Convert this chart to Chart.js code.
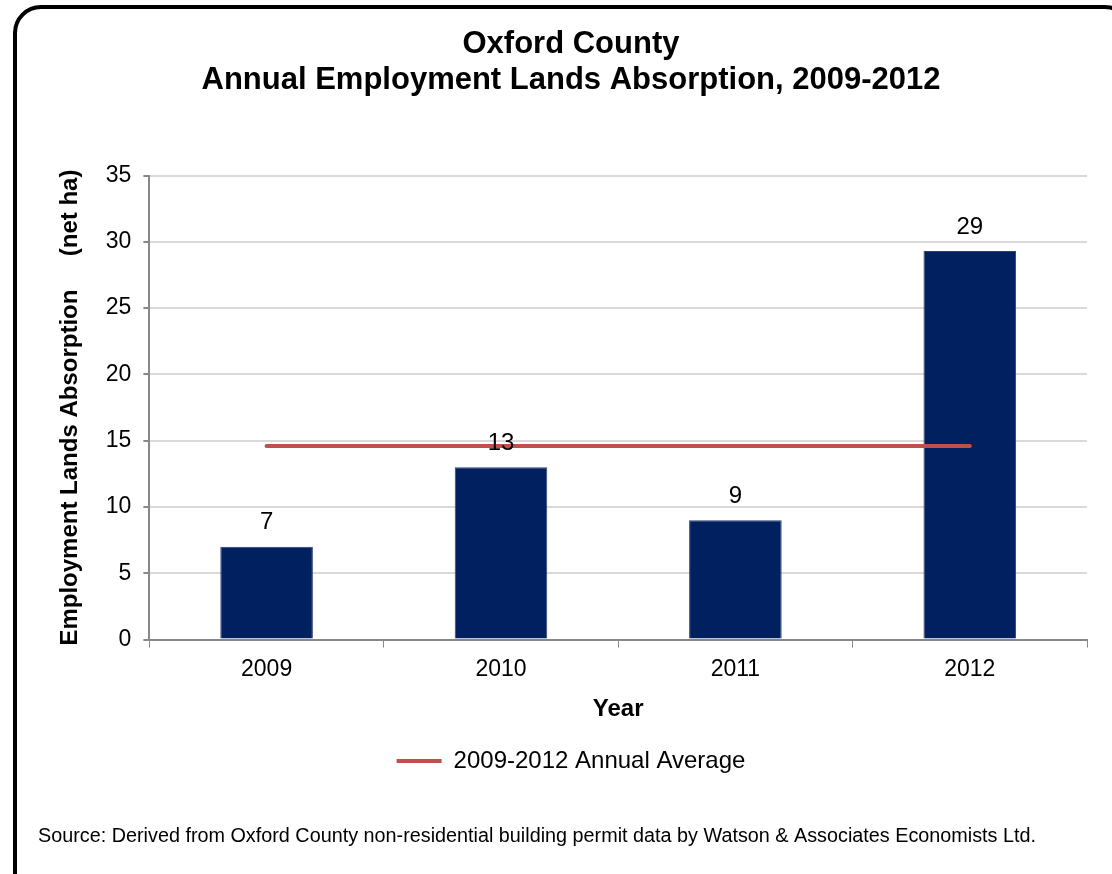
<!DOCTYPE html>
<html>
<head>
<meta charset="utf-8">
<script src="https://cdn.jsdelivr.net/npm/chart.js@4/dist/chart.umd.min.js"></script>
<style>
  html, body { margin: 0; padding: 0; background: #fff; overflow: hidden; }
  #frame {
    position: absolute; left: 13px; top: 5px;
    width: 1112px; height: 900px;
    border: 4px solid #000; border-radius: 28px;
    background: #fff;
  }
  canvas { display: block; }
</style>
</head>
<body>
<div id="frame"><canvas id="absorptionChart" width="1112" height="900"></canvas></div>
<script>
const years = ['2009', '2010', '2011', '2012'];
const absorption = [7.0, 13.0, 9.0, 29.3];          // net ha per year
const annualAverage = [14.6, 14.6, 14.6, 14.6];     // 2009-2012 mean
const yTicks = [0, 5, 10, 15, 20, 25, 30, 35];
const sourceNote = 'Source: Derived from Oxford County non-residential building permit data by Watson & Associates Economists Ltd.';

const FONT = "'Liberation Sans', Arial, sans-serif";
Chart.defaults.font.family = FONT;
Chart.defaults.color = '#000';

// value labels above the bars
const barLabels = {
    id: 'barLabels',
    afterDatasetsDraw(chart) {
        const ctx = chart.ctx;
        const meta = chart.getDatasetMeta(1);
        ctx.save();
        ctx.font = '24px ' + FONT;
        ctx.fillStyle = '#000';
        ctx.textAlign = 'center';
        ctx.textBaseline = 'middle';
        meta.data.forEach((bar, i) => {
            ctx.fillText(Math.round(absorption[i]), bar.x, bar.y - 24);
        });
        ctx.restore();
    }
};

// source line under the legend
const sourceText = {
    id: 'sourceText',
    afterDraw(chart) {
        const ctx = chart.ctx;
        ctx.save();
        ctx.font = '20px ' + FONT;
        ctx.fillStyle = '#000';
        ctx.textAlign = 'left';
        ctx.textBaseline = 'middle';
        ctx.fillText(sourceNote, 21, chart.legend.bottom + 53, 998);
        ctx.restore();
    }
};

new Chart(document.getElementById('absorptionChart'), {
    data: {
        labels: years,
        datasets: [{
            type: 'line',
            label: '2009-2012 Annual Average',
            data: annualAverage,
            borderColor: '#C0504D',
            backgroundColor: '#C0504D',
            borderWidth: 4,
            borderCapStyle: 'round',
            pointRadius: 0,
            order: 0
        }, {
            type: 'bar',
            label: 'Absorption',
            data: absorption,
            backgroundColor: '#002060',
            borderColor: '#2c3f70',
            borderWidth: 1,
            barPercentage: 0.395,
            categoryPercentage: 1,
            order: 1
        }]
    },
    options: {
        responsive: false,
        animation: false,
        layout: { padding: { left: 38, right: 42, top: 0, bottom: 126 } },
        plugins: {
            title: {
                display: true,
                text: ['Oxford County', 'Annual Employment Lands Absorption, 2009-2012'],
                font: { size: 31, weight: 'bold', lineHeight: 1.17 },
                padding: { top: 17, bottom: 77 },
                color: '#000'
            },
            legend: {
                position: 'bottom',
                labels: {
                    boxWidth: 45,
                    boxHeight: 4,
                    font: { size: 24 },
                    color: '#000',
                    generateLabels: () => [{
                        text: '2009-2012 Annual Average',
                        fillStyle: '#C0504D',
                        strokeStyle: '#C0504D',
                        lineWidth: 0,
                        hidden: false,
                        datasetIndex: 0
                    }]
                }
            },
            tooltip: { enabled: false }
        },
        scales: {
            x: {
                grid: {
                    display: true,
                    drawOnChartArea: false,
                    drawTicks: true,
                    tickLength: 8,
                    tickColor: '#888'
                },
                border: { color: '#888', width: 2 },
                ticks: { font: { size: 23 }, color: '#000', padding: 8 },
                title: {
                    display: true,
                    text: 'Year',
                    font: { size: 24, weight: 'bold' },
                    color: '#000',
                    padding: { top: 4, bottom: 15 }
                }
            },
            y: {
                min: 0,
                max: 35,
                afterBuildTicks: scale => { scale.ticks = yTicks.map(v => ({ value: v })); },
                grid: { color: '#d9d9d9', lineWidth: 2, tickLength: 6, tickColor: '#888' },
                border: { color: '#888', width: 2 },
                ticks: { font: { size: 23 }, color: '#000', padding: 12 },
                title: {
                    display: true,
                    text: 'Employment Lands Absorption     (net ha)',
                    font: { size: 24, weight: 'bold' },
                    color: '#000',
                    padding: { top: 1, bottom: 9 }
                }
            }
        }
    },
    plugins: [barLabels, sourceText]
});
</script>
</body>
</html>
